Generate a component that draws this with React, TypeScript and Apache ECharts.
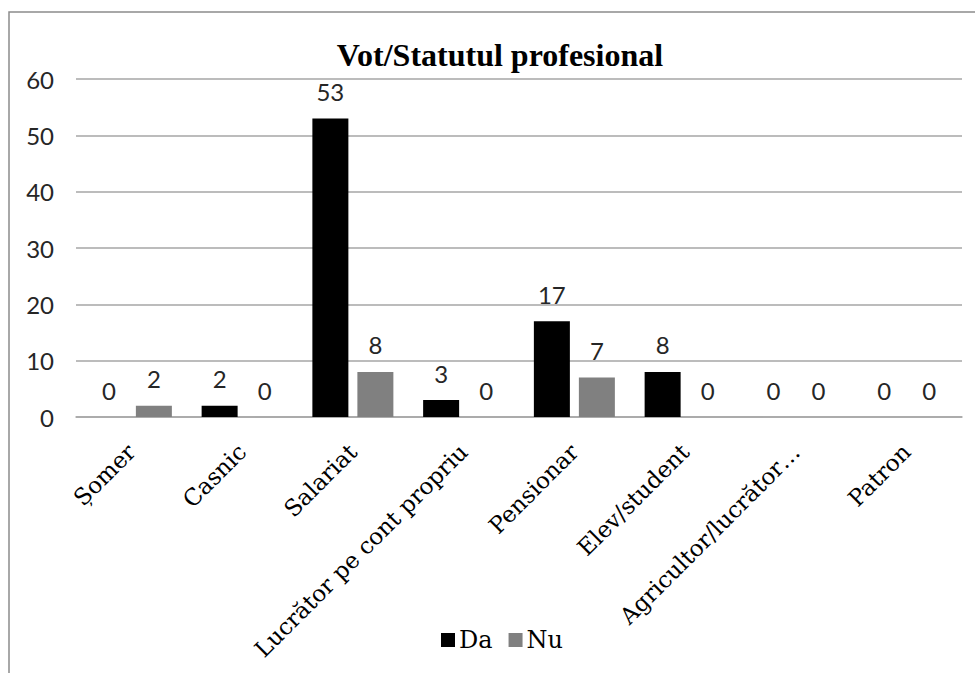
import React, { useEffect, useRef } from "react";
import * as echarts from "echarts";

const categories = [
  "Șomer",
  "Casnic",
  "Salariat",
  "Lucrător pe cont propriu",
  "Pensionar",
  "Elev/student",
  "Agricultor/lucrător…",
  "Patron",
];
const daValues = [0, 2, 53, 3, 17, 8, 0, 0];
const nuValues = [2, 0, 8, 0, 7, 0, 0, 0];
const yTicks = { min: 0, max: 60, interval: 10 };

const SANS = "Lato";
const SERIF = "DejaVu Serif";
const TITLE_SERIF = "Liberation Serif";

export default function App() {
  const ref = useRef<HTMLDivElement>(null);
  useEffect(() => {
    if (!ref.current) return;
    const chart = echarts.init(ref.current, null, { renderer: "svg" });
    const labelStyle = {
      show: true,
      position: "top" as const,
      distance: 15,
      fontFamily: SANS,
      fontSize: 24,
      color: "#262626",
    };
    chart.setOption({
      animation: false,
      backgroundColor: "#ffffff",
      title: {
        text: "Vot/Statutul profesional",
        left: 495,
        textAlign: "center",
        top: 34,
        textStyle: {
          fontFamily: TITLE_SERIF,
          fontWeight: "bold",
          fontSize: 32,
          color: "#000000",
        },
      },
      graphic: [
        {
          type: "rect",
          shape: { x: 9, y: 12, width: 1100, height: 800 },
          style: { fill: "none", stroke: "#8c8c8c", lineWidth: 1.5 },
          silent: true,
        },
      ],
      legend: {
        top: 623,
        left: 436,
        itemWidth: 14,
        itemHeight: 14,
        itemGap: 16,
        icon: "rect",
        textStyle: { fontFamily: SERIF, fontSize: 24, color: "#000000", padding: [0, 0, 0, -1] },
        data: ["Da", "Nu"],
      },
      grid: { left: 76, right: 13, top: 79, bottom: 256, containLabel: false },
      xAxis: {
        type: "category",
        data: categories,
        axisLine: { lineStyle: { color: "#a6a6a6", width: 1.5 } },
        axisTick: { show: false },
        axisLabel: {
          rotate: 45,
          interval: 0,
          margin: 31,
          fontFamily: SERIF,
          fontSize: 23,
          color: "#000000",
        },
      },
      yAxis: {
        type: "value",
        min: yTicks.min,
        max: yTicks.max,
        interval: yTicks.interval,
        axisLine: { show: false },
        axisTick: { show: false },
        splitLine: { lineStyle: { color: "#a6a6a6", width: 1.5 } },
        axisLabel: {
          margin: 22,
          fontFamily: SANS,
          fontSize: 24,
          color: "#262626",
        },
      },
      series: [
        {
          name: "Da",
          type: "bar",
          data: daValues,
          barWidth: 36,
          barGap: "25%",
          itemStyle: { color: "#000000" },
          label: labelStyle,
        },
        {
          name: "Nu",
          type: "bar",
          data: nuValues,
          barWidth: 36,
          barGap: "25%",
          itemStyle: { color: "#808080" },
          label: labelStyle,
        },
      ],
    });
    return () => chart.dispose();
  }, []);
  return (
    <div
      ref={ref}
      style={{ position: "fixed", left: 0, top: 0, width: 975, height: 673, background: "#fff" }}
    />
  );
}
